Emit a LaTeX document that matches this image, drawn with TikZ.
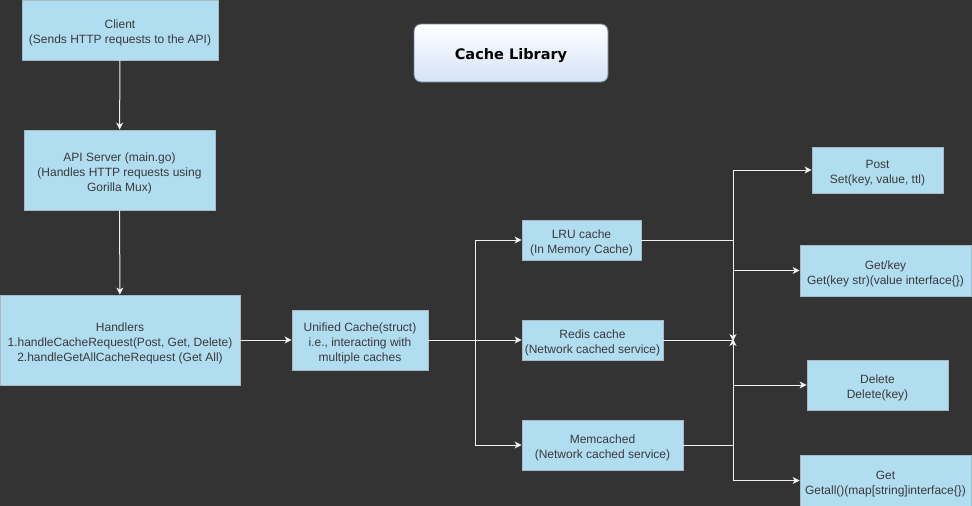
\documentclass[tikz,border=0pt]{standalone}
\usepackage{fontspec}
\setmainfont{Liberation Sans}
\newfontfamily\titlefont{DejaVu Sans}
\usetikzlibrary{arrows.meta,positioning}
\definecolor{bg}{HTML}{333333}
\definecolor{boxfill}{HTML}{B1DDF0}
\definecolor{boxline}{HTML}{A9B8C2}
\definecolor{txt}{HTML}{3A3A3A}
\definecolor{wire}{HTML}{F0F0F0}
\definecolor{ttop}{HTML}{FFFFFF}
\definecolor{tbot}{HTML}{D4E3F7}
\definecolor{tline}{HTML}{6C7F99}
\newcommand{\topstrut}{\rule{0pt}{15pt}}
\begin{document}
\begin{tikzpicture}[x=1pt,y=-1pt,
  box/.style={draw=boxline, line width=0.8pt, fill=boxfill, text=txt, align=center,
    inner sep=0pt, font=\fontsize{12}{15}\selectfont},
  wireline/.style={draw=wire, line width=1pt},
  arr/.style={wireline, -{Stealth[length=7pt,width=7pt,inset=2pt]}},
  titlebox/.style={draw=tline, line width=0.8pt, rounded corners=7pt, top color=ttop, bottom color=tbot,
    text=black, font=\titlefont\bfseries\fontsize{14.5}{17}\selectfont, inner sep=0pt}
]
\fill[bg] (0,0) rectangle (972,506);
\useasboundingbox (0,0) rectangle (972,506);

\node[titlebox, minimum width=194pt, minimum height=58pt] (title) at (511,53) {\rule{0pt}{17pt}Cache Library};

\node[box, minimum width=196pt, minimum height=60pt] (client) at (120,30) {\topstrut Client\\(Sends HTTP requests to the API)};
\node[box, minimum width=191pt, minimum height=80pt] (api) at (119.5,170) {\topstrut API Server (main.go)\\(Handles HTTP requests using\\Gorilla Mux)};
\node[box, minimum width=240pt, minimum height=90pt] (handlers) at (120,340) {\topstrut Handlers\\1.handleCacheRequest(Post, Get, Delete)\\2.handleGetAllCacheRequest (Get All)};
\node[box, minimum width=136pt, minimum height=60pt] (unified) at (360,340) {\topstrut Unified Cache(struct)\\i.e., interacting with\\multiple caches};
\node[box, minimum width=119pt, minimum height=40pt] (lru) at (581.5,240) {\topstrut LRU cache\\(In Memory Cache)};
\node[box, minimum width=141pt, minimum height=40pt] (redis) at (592.5,340) {\topstrut Redis cache\\(Network cached service)};
\node[box, minimum width=161pt, minimum height=50pt] (memc) at (602.5,445) {\topstrut Memcached\\(Network cached service)};
\node[box, minimum width=131pt, minimum height=46pt] (post) at (877.5,170) {\topstrut Post\\Set(key, value, ttl)};
\node[box, minimum width=171pt, minimum height=51pt] (getkey) at (885.5,270.5) {\topstrut Get/key\\Get(key str)(value interface\{\})};
\node[box, minimum width=141pt, minimum height=50pt] (delete) at (877.5,385) {\topstrut Delete\\Delete(key)};
\node[box, minimum width=171pt, minimum height=51pt] (getall) at (885.5,480.5) {\topstrut Get\\Getall()(map[string]interface\{\})};

\coordinate (j1) at (475,340);
\coordinate (j2) at (733,340);

\draw[arr] (client) -- (api);
\draw[arr] (api) -- (handlers);
\draw[arr] (handlers) -- (unified);
\draw[wireline] (unified.east) -- (j1);
\draw[arr] (j1) |- (lru.west);
\draw[arr] (j1) -- (redis.west);
\draw[arr] (j1) |- (memc.west);
\draw[arr] (lru.east) -| ([yshift=-1pt]j2);
\draw[arr] (memc.east) -| ([yshift=1pt]j2);
\draw[wireline] (redis.east) -- (j2);
\draw[arr] (j2) |- (post.west);
\draw[arr] (j2) |- (getkey.west);
\draw[arr] (j2) |- (delete.west);
\draw[arr] (j2) |- (getall.west);
\end{tikzpicture}
\end{document}
